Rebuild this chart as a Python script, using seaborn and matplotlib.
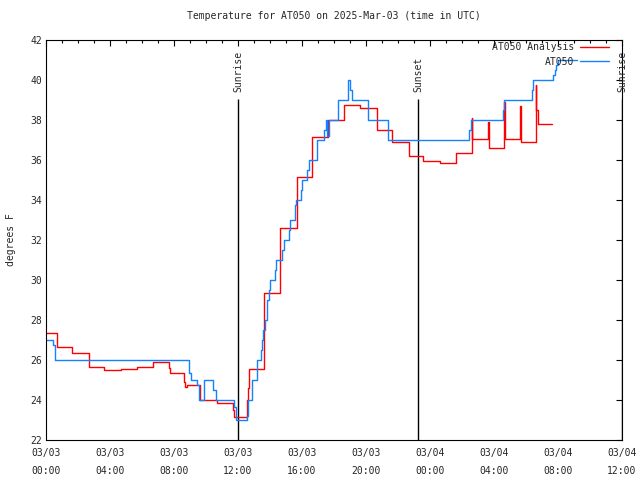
import matplotlib
matplotlib.use("Agg")
import matplotlib.pyplot as plt
import seaborn as sns
import pandas as pd
from matplotlib.ticker import MultipleLocator

# ---- data (hours since 2025-03-03 00:00 UTC, degrees F) ----
analysis_hours = [0, 0.67, 1.65, 2.67, 3.65, 4.67, 5.67, 6.67, 7.67, 7.72, 8.65, 8.7,
                  8.79, 9.6, 9.65, 10.67, 11.67, 11.72, 12.54, 12.62, 12.7, 13.64, 14.63,
                  15.67, 16.64, 17.65, 18.64, 19.63, 20.67, 21.64, 22.69, 23.58, 24.6,
                  25.6, 26.6, 26.65, 27.64, 27.7, 28.6, 28.67, 29.6, 29.68, 30.6, 30.65,
                  30.75, 31.6]
analysis_temps = [27.33, 26.63, 26.33, 25.63, 25.48, 25.53, 25.63, 25.88, 25.6, 25.33,
                  24.9, 24.67, 24.75, 24.3, 24.0, 23.87, 23.5, 23.13, 24.0, 24.6, 25.53,
                  29.33, 32.58, 35.13, 37.13, 37.98, 38.75, 38.58, 37.48, 36.88, 36.18,
                  35.97, 35.83, 36.33, 38.08, 37.03, 37.9, 36.58, 38.9, 37.03, 38.7,
                  36.92, 39.75, 38.5, 37.78, 37.78]

obs_hours = [0, 0.46, 0.55, 8.96, 9.08, 9.42, 9.58, 9.9, 10.42, 10.6, 11.75, 11.85,
             11.9, 12.54, 12.6, 12.9, 13.17, 13.21, 13.42, 13.5, 13.58, 13.69, 13.79,
             13.83, 13.96, 14.0, 14.31, 14.375, 14.77, 14.875, 15.19, 15.23, 15.54,
             15.65, 15.96, 16.02, 16.33, 16.44, 16.92, 17.375, 17.48, 17.56, 17.66,
             18.23, 18.86, 18.9, 18.97, 19.1, 20.14, 21.4, 26.46, 26.55, 28.58, 28.65,
             30.36, 30.42, 31.7, 31.8, 31.9, 32.0, 33.2]
obs_temps = [27.0, 26.75, 26.0, 25.33, 25.0, 24.75, 24.0, 25.0, 24.5, 24.0, 23.67, 23.25,
             23.0, 23.2, 24.0, 25.0, 25.5, 26.0, 26.5, 27.0, 27.5, 28.0, 28.5,
             29.0, 29.5, 30.0, 30.5, 31.0, 31.5, 32.0, 32.5, 33.0, 33.75,
             34.0, 34.5, 35.0, 35.5, 36.0, 37.0, 37.5, 38.0, 37.2, 38.0,
             39.0, 39.5, 40.0, 39.5, 39.0, 38.0, 37.0, 37.5, 38.0, 38.5, 39.0,
             39.5, 40.0, 40.25, 40.5, 40.75, 41.0, 41.0]

event_names = ["Sunrise", "Sunset", "Sunrise"]
event_hours = [12.0, 23.27, 36.0]
event_line_top = 39.05

xtick_hours = [0, 4, 8, 12, 16, 20, 24, 28, 32, 36]
xtick_labels = ["03/03\n00:00", "03/03\n04:00", "03/03\n08:00", "03/03\n12:00",
                "03/03\n16:00", "03/03\n20:00", "03/04\n00:00", "03/04\n04:00",
                "03/04\n08:00", "03/04\n12:00"]

title = "Temperature for AT050 on 2025-Mar-03 (time in UTC)"
ylabel = "degrees F"

# ---- style ----
sns.set_style("white")
plt.rcParams["font.family"] = ["DejaVu Sans Mono"]
plt.rcParams["font.size"] = 7

fig = plt.figure(figsize=(6.4, 4.8), dpi=100)
ax = fig.add_axes([46 / 640, 40 / 480, 576 / 640, 400 / 480])

df_a = pd.DataFrame({"hour": analysis_hours, "temp": analysis_temps})
df_o = pd.DataFrame({"hour": obs_hours, "temp": obs_temps})

sns.lineplot(data=df_a, x="hour", y="temp", ax=ax, color="#ff0000", lw=1.0,
             drawstyle="steps-post", estimator=None, sort=False, label="AT050 Analysis")
sns.lineplot(data=df_o, x="hour", y="temp", ax=ax, color="#1482ff", lw=1.0,
             drawstyle="steps-post", estimator=None, sort=False, label="AT050")

for name, h in zip(event_names, event_hours):
    ax.vlines(h, 22, event_line_top, color="black", lw=1.0, zorder=1)
    ax.text(h, 39.4, name, rotation=90, ha="center", va="bottom",
            fontsize=7, clip_on=False)

ax.set_xlim(0, 36)
ax.set_ylim(22, 42)
ax.set_xticks(xtick_hours)
ax.set_xticklabels(xtick_labels, linespacing=1.9)
ax.xaxis.set_minor_locator(MultipleLocator(1))
ax.yaxis.set_major_locator(MultipleLocator(2))

ax.tick_params(axis="both", which="both", direction="in", top=True, right=True,
               color="black", width=0.8)
ax.tick_params(axis="both", which="major", length=4)
ax.tick_params(axis="x", which="minor", length=2)
ax.tick_params(axis="x", which="major", pad=6)
ax.tick_params(axis="y", which="major", pad=3)

for s in ax.spines.values():
    s.set_color("black")
    s.set_linewidth(0.8)

ax.set_xlabel("")
ax.set_ylabel(ylabel, labelpad=10)
ax.set_title(title, pad=15, fontsize=7)

leg = ax.legend(loc="upper right", bbox_to_anchor=(1 - 11 / 576, 1.0),
                markerfirst=False, frameon=False, handlelength=3.0,
                handletextpad=0.6, labelspacing=0.5, borderpad=0.2,
                borderaxespad=0, fontsize=7)

fig.savefig("out.png", dpi=100, facecolor="white")
